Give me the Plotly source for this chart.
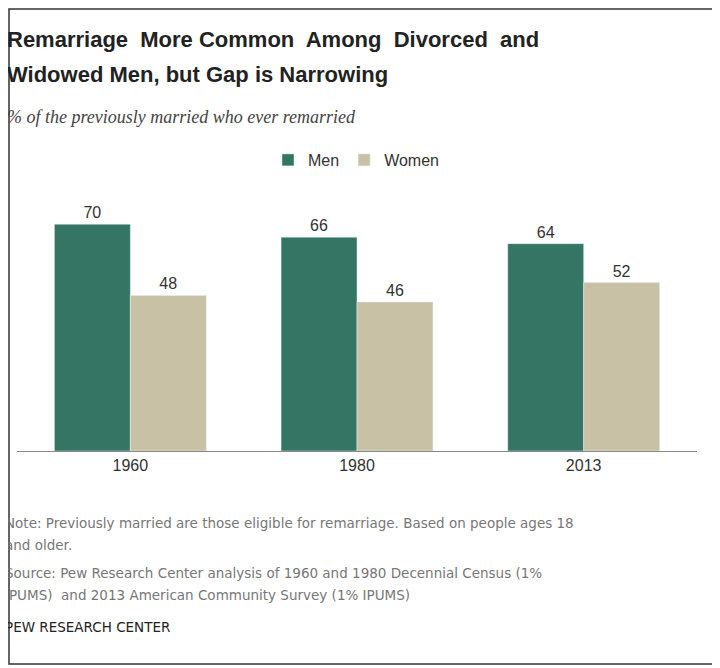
import plotly.graph_objects as go

years = ["1960", "1980", "2013"]
men = [70, 66, 64]
women = [48, 46, 52]

# the page adds an 8px body margin, so draw in a 712x660 box shifted by 8
OFF = 8
W, H = 712, 660
L, R, T, B = 17 - OFF, 31 - OFF, 180 - OFF, 225 - OFF
pw, ph = W - L - R, H - T - B


def px(x):
    return (x - OFF - L) / pw


def py(y):
    return (H - B - (y - OFF)) / ph


fig = go.Figure()
fig.add_trace(go.Bar(x=years, y=men, name="Men", marker_color="#357564",
                     text=men, textposition="outside",
                     textfont=dict(size=16, color="#333")))
fig.add_trace(go.Bar(x=years, y=women, name="Women", marker_color="#c9c1a6",
                     text=women, textposition="outside",
                     textfont=dict(size=16, color="#333")))

texts = [
    (5, 40, "<b>Remarriage  More Common  Among  Divorced  and</b>", 22, "#222", "Liberation Sans"),
    (5, 75, "<b>Widowed Men, but Gap is Narrowing</b>", 22, "#222", "Liberation Sans"),
    (5, 117, "<i>% of the previously married who ever remarried</i>", 18, "#444", "Liberation Serif"),
    (3, 523, "Note: Previously married are those eligible for remarriage. Based on people ages 18", 13.5, "#777", "DejaVu Sans"),
    (3, 545, "and older.", 13.5, "#777", "DejaVu Sans"),
    (3, 573, "Source: Pew Research Center analysis of 1960 and 1980 Decennial Census (1%", 13.5, "#777", "DejaVu Sans"),
    (3, 595, "IPUMS)  and 2013 American Community Survey (1% IPUMS)", 13.5, "#777", "DejaVu Sans"),
    (3, 627, "PEW RESEARCH CENTER", 13.5, "#222", "DejaVu Sans"),
]
anns = [dict(x=px(x), y=py(y), xref="paper", yref="paper", text=t, showarrow=False,
             xanchor="left", yanchor="middle", font=dict(size=s, color=c, family=f))
        for x, y, t, s, c, f in texts]

fig.update_layout(
    width=W, height=H,
    margin=dict(l=L, r=R, t=T, b=B),
    paper_bgcolor="white", plot_bgcolor="white",
    barmode="group", bargap=0.33, bargroupgap=0,
    font=dict(family="Liberation Sans", color="#333"),
    showlegend=True,
    legend=dict(orientation="h", x=px(268), y=py(160), xanchor="left", yanchor="middle",
                font=dict(size=16, color="#333"), itemwidth=30, traceorder="normal"),
    xaxis=dict(showline=True, linecolor="#888", linewidth=1, ticks="",
               tickfont=dict(size=16, color="#333")),
    yaxis=dict(range=[0, ph / 3.24], visible=False),
    annotations=anns,
    shapes=[dict(type="rect", xref="paper", yref="paper", x0=px(9), x1=px(717),
                 y0=py(664), y1=py(9), line=dict(color="#333", width=1.5))],
)

fig.write_html("out.html")
